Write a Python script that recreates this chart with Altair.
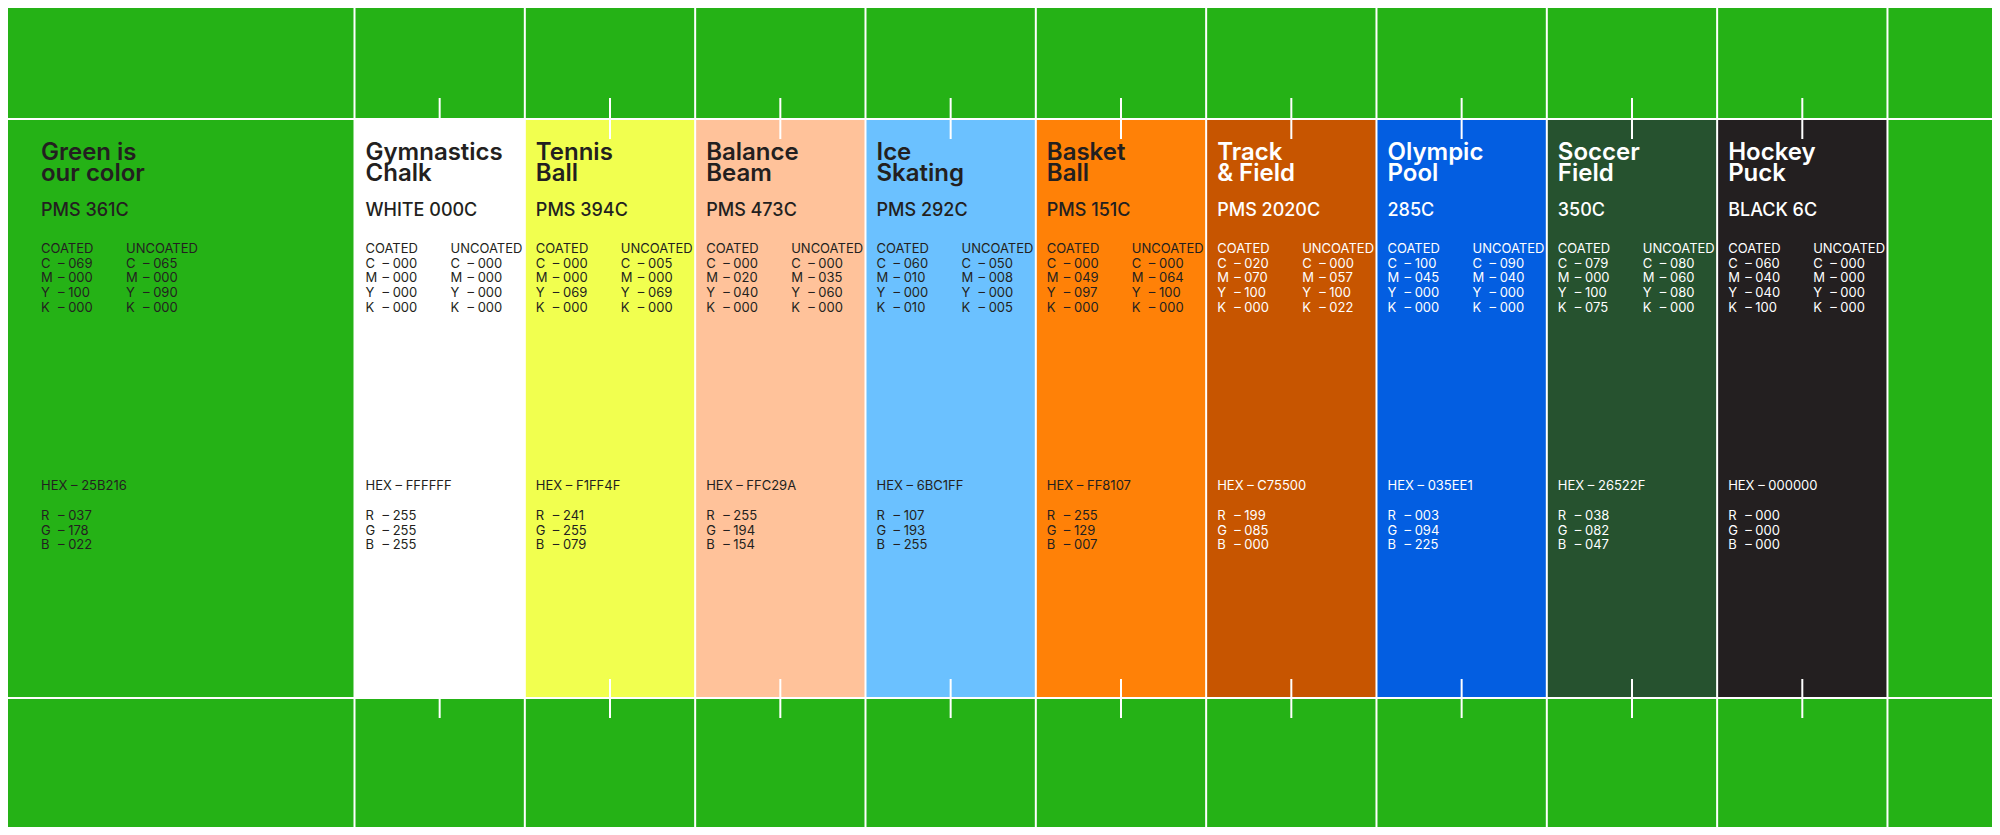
import altair as alt
import pandas as pd

# ------------------------------------------------------------------ data
title_top = ["Green is", "Gymnastics", "Tennis", "Balance", "Ice", "Basket",
             "Track", "Olympic", "Soccer", "Hockey"]
title_bottom = ["our color", "Chalk", "Ball", "Beam", "Skating", "Ball",
                "& Field", "Pool", "Field", "Puck"]
pantone = ["PMS 361C", "WHITE 000C", "PMS 394C", "PMS 473C", "PMS 292C",
           "PMS 151C", "PMS 2020C", "285C", "350C", "BLACK 6C"]
coated_c = [69, 0, 0, 0, 60, 0, 20, 100, 79, 60]
coated_m = [0, 0, 0, 20, 10, 49, 70, 45, 0, 40]
coated_y = [100, 0, 69, 40, 0, 97, 100, 0, 100, 40]
coated_k = [0, 0, 0, 0, 10, 0, 0, 0, 75, 100]
uncoated_c = [65, 0, 5, 0, 50, 0, 0, 90, 80, 0]
uncoated_m = [0, 0, 0, 35, 8, 64, 57, 40, 60, 0]
uncoated_y = [90, 0, 69, 60, 0, 100, 100, 0, 80, 0]
uncoated_k = [0, 0, 0, 0, 5, 0, 22, 0, 0, 0]
hex_codes = ["25B216", "FFFFFF", "F1FF4F", "FFC29A", "6BC1FF", "FF8107",
             "C75500", "035EE1", "26522F", "000000"]
rgb_r = [37, 255, 241, 255, 107, 255, 199, 3, 38, 0]
rgb_g = [178, 255, 255, 194, 193, 129, 85, 94, 82, 0]
rgb_b = [22, 255, 79, 154, 255, 7, 0, 225, 47, 0]
swatch_fill = ["#25B216", "#FFFFFF", "#F1FF4F", "#FFC29A", "#6BC1FF",
               "#FF8107", "#C75500", "#035EE1", "#26522F", "#231F20"]
light_text = [False, False, False, False, False, False, True, True, True, True]

# ------------------------------------------------------------------ layout
W, H = 1984, 819            # drawable area (page has 8px margin)
X0, CW = 354.5, 170.33      # left edge of first narrow swatch, swatch width
VX = (8, 1992)              # reference pixel range visible in the chart
VY = (8, 827)
BAND_TOP, BAND_BOT = 119, 698
BG = "#25B216"
DARK = "#231F20"
FONT = "Inter"

xs = alt.Scale(domain=[(VX[0] - X0) / CW, (VX[1] - X0) / CW], nice=False, zero=False)
ys = alt.Scale(domain=[VY[0], VY[1]], reverse=True, nice=False, zero=False)
n = len(title_top)

# swatch rectangles (narrow ones, index 1..9 -> unit [i-1, i])
rects = pd.DataFrame({
    "x": [i - 1 for i in range(1, n)],
    "x2": [i for i in range(1, n)],
    "y": [BAND_TOP] * (n - 1),
    "y2": [BAND_BOT] * (n - 1),
    "fill": swatch_fill[1:],
})
bounds = pd.DataFrame({"x": list(range(0, n))})
hlines = pd.DataFrame({"y": [BAND_TOP, BAND_BOT]})
ticks = pd.DataFrame({
    "x": [k + 0.5 for k in range(n - 1)] * 2,
    "y": [98] * (n - 1) + [679] * (n - 1),
    "y2": [139] * (n - 1) + [718] * (n - 1),
})

titles, pms, details = [], [], []
for s in range(n):
    left = (0 - X0) / CW if s == 0 else s - 1
    tx = left + (41 if s == 0 else 11) / CW
    col = "#FFFFFF" if light_text[s] else DARK
    titles.append((tx, 159.5, title_top[s] + "\n" + title_bottom[s], col))
    pms.append((tx, 215.7, pantone[s], col))
    ux = tx + 85 / CW
    details.append((tx, 253, "COATED", col))
    details.append((ux, 253, "UNCOATED", col))
    cv = [coated_c[s], coated_m[s], coated_y[s], coated_k[s]]
    uv = [uncoated_c[s], uncoated_m[s], uncoated_y[s], uncoated_k[s]]
    for j, L in enumerate("CMYK"):
        yy = 253 + (j + 1) * 14.67
        details.append((tx, yy, L, col))
        details.append((tx + 17 / CW, yy, "– %03d" % cv[j], col))
        details.append((ux, yy, L, col))
        details.append((ux + 17 / CW, yy, "– %03d" % uv[j], col))
    details.append((tx, 490, "HEX – " + hex_codes[s], col))
    for j, (L, v) in enumerate(zip("RGB", [rgb_r[s], rgb_g[s], rgb_b[s]])):
        yy = 520 + j * 14.5
        details.append((tx, yy, L, col))
        details.append((tx + 17 / CW, yy, "– %03d" % v, col))

cols = ["x", "y", "text", "color"]
titles = pd.DataFrame(titles, columns=cols)
pms = pd.DataFrame(pms, columns=cols)
details = pd.DataFrame(details, columns=cols)

X = lambda f="x": alt.X(f + ":Q", scale=xs, axis=None)
Y = lambda f="y": alt.Y(f + ":Q", scale=ys, axis=None)

rect_layer = alt.Chart(rects).mark_rect(clip=True).encode(
    x=X(), x2="x2:Q", y=Y(), y2="y2:Q",
    color=alt.Color("fill:N", scale=None),
)
vrules = alt.Chart(bounds).mark_rule(color="white", strokeWidth=2).encode(
    x=X(), y=alt.value(0), y2=alt.value(H))
hrules = alt.Chart(hlines).mark_rule(color="white", strokeWidth=2).encode(
    y=Y(), x=alt.value(0), x2=alt.value(W))
tick_layer = alt.Chart(ticks).mark_rule(color="white", strokeWidth=2).encode(
    x=X(), y=Y(), y2="y2:Q")


def text_layer(df, size, weight, **kw):
    return alt.Chart(df).mark_text(
        align="left", baseline="alphabetic", font=FONT,
        fontSize=size, fontWeight=weight, **kw
    ).encode(x=X(), y=Y(), text="text:N",
             color=alt.Color("color:N", scale=None))


chart = alt.layer(
    rect_layer, vrules, hrules, tick_layer,
    text_layer(titles, 24, 600, lineBreak="\n", lineHeight=21),
    text_layer(pms, 18, 500),
    text_layer(details, 13, 400),
).properties(
    width=W, height=H, background=BG, padding=0,
    autosize=alt.AutoSizeParams(type="none"),
).configure_view(stroke=None)

chart.save("out.html", embed_options={"renderer": "svg", "actions": False})
